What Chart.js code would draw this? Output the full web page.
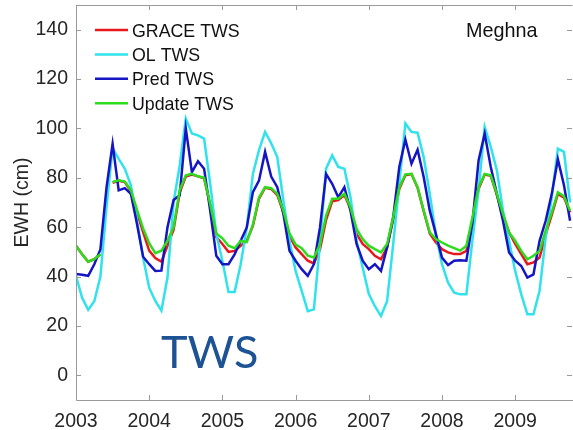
<!DOCTYPE html>
<html>
<head>
<meta charset="utf-8">
<script src="https://cdn.jsdelivr.net/npm/chart.js@4.4.1/dist/chart.umd.min.js"></script>
<style>
    html, body { margin: 0; padding: 0; background: #fff; }
    #wrap { width: 573px; height: 430px; position: relative; }
</style>
</head>
<body>
<div id="wrap"><canvas id="graficoTWS"></canvas></div>
<script>
// ---------------------------------------------------------------
// Dados mensais (jan/2003 - out/2009), EWH em cm - bacia Meghna
// ---------------------------------------------------------------
const anoInicial = 2003;
const anos = [2003, 2004, 2005, 2006, 2007, 2008, 2009];
const yTicks = [0, 20, 40, 60, 80, 100, 120, 140];

const graceTWS = [
    52.5, 49, 46, 47, 49, null, 78, 78.8, 78.3, 74.5, 66, 58,
    50.5, 47.5, 46, 52.5, 59, 74, 80.5, 81.3, 80.6, 79.8, 69, 56,
    53.2, 50, 50.4, 52.5, 54.5, 60.5, 71.5, 76, 75.5, 73, 66, 56.5,
    51.8, 49.1, 46.4, 45.3, 51, 63, 70.5, 71, 73, 67.5, 57.2, 53.2,
    51.1, 48.4, 47, 51.8, 63, 75.5, 81, 81.5, 76, 66.5, 57.5, 53.8,
    51.1, 49.8, 49.1, 49.1, 50.4, 63, 75.5, 81.3, 80.8, 73, 65, 57.9,
    53.2, 49.1, 45, 45.7, 47.7, 57, 65, 73.5, 72, 66
];
const olTWS = [
    40.3, 31.4, 26.5, 30, 40, 68, 92, 87.7, 83.7, 77, 62.6, 47.7,
    35.5, 30.1, 26.2, 39.6, 70, 85, 104, 98, 97.2, 95.9, 77.6, 57.2,
    46.4, 33.7, 33.7, 45, 59.9, 81.6, 91.2, 98.6, 94, 88.4, 70.8, 54.5,
    42.3, 34.2, 26, 26.7, 53.2, 83.7, 89.1, 84.4, 83.7, 72.1, 54.5, 43.6,
    33, 28, 24, 30, 53, 77.6, 102, 98.6, 98.3, 88.4, 73.5, 57.2,
    45, 37.5, 33.5, 32.8, 32.8, 55, 75, 100.6, 92.5, 83, 66.7, 54.5,
    42.3, 32.8, 24.7, 24.7, 34.2, 55.9, 72.1, 91.8, 90.5, 70
];
const predTWS = [
    41, 40.7, 40.3, 45, 51, 76, 93.8, 74.9, 75.8, 73.5, 61.3, 48,
    45, 42.3, 42.4, 60, 71, 72.9, 100, 82.3, 86.7, 83.7, 66.7, 48.4,
    45, 45, 49, 54.5, 59.9, 74.2, 78.9, 90.5, 80.5, 76.2, 65.4, 50.4,
    46.4, 43, 40.3, 45, 59.9, 81.6, 77.6, 72.1, 76.2, 66.7, 53.2, 46.4,
    43, 45, 42.3, 51.8, 64, 84.4, 95.5, 85.7, 91.4, 80.3, 66.7, 57.2,
    47.7, 44.7, 46.4, 46.6, 46.4, 62, 87, 97.9, 84.4, 73.5, 62.6, 49.8,
    46.4, 44.3, 39.6, 40.9, 54.5, 62.6, 73.5, 87.5, 77, 62.6
];
const updateTWS = [
    52.5, 49, 46, 47, 49, null, 78.3, 79, 78.5, 75, 67, 59.5,
    53.5, 49.5, 50.5, 54.5, 60, 75, 81, 81.6, 80.6, 80, 69.4, 57.5,
    55.5, 52.5, 51.5, 54.5, 54, 61, 72, 76.2, 75.8, 73.5, 66.7, 57.5,
    53, 51.5, 48.5, 47.7, 53, 64.7, 71.5, 71.5, 73.5, 68, 59.3, 55.2,
    52.5, 51.1, 49.8, 53.2, 64, 76.2, 81.4, 81.6, 76.2, 66.7, 57.9, 55.2,
    53.8, 52.5, 51.5, 50.5, 52.5, 64, 76.2, 81.6, 81, 73.5, 65.4, 57.9,
    54.5, 50.4, 47, 48.4, 50.4, 58.6, 66, 74.2, 72.5, 66.7
];

// serie mensal -> pontos {x: ano decimal, y}
function serieMensal(valores) {
    return valores.map((v, i) => ({ x: anoInicial + i / 12, y: v }));
}

const corEixo = '#9a9a9a';
const corTexto = '#262626';
const fonteBase = "'Liberation Sans', Arial, sans-serif";

/**
 * Moldura, ticks internos, legenda e rótulos (estilo MATLAB)
 */
const molduraPlugin = {
    id: 'moldura',
    afterDatasetsDraw(chart) {
        const { ctx, chartArea: a, scales } = chart;
        const xs = scales.x, ys = scales.y;
        const tl = 5;
        ctx.save();
        ctx.strokeStyle = corEixo;
        ctx.lineWidth = 1;
        ctx.beginPath();
        ctx.moveTo(a.left + 0.5, a.top + 0.5);
        ctx.lineTo(a.right - 0.5, a.top + 0.5);
        ctx.moveTo(a.left + 0.5, a.top);
        ctx.lineTo(a.left + 0.5, a.bottom + 0.5);
        ctx.lineTo(a.right, a.bottom + 0.5);
        anos.forEach(v => {
            const px = Math.round(xs.getPixelForValue(v)) + 0.5;
            ctx.moveTo(px, a.bottom);
            ctx.lineTo(px, a.bottom - tl);
            ctx.moveTo(px, a.top);
            ctx.lineTo(px, a.top + tl);
        });
        yTicks.forEach(v => {
            const py = Math.round(ys.getPixelForValue(v)) + 0.5;
            ctx.moveTo(a.left, py);
            ctx.lineTo(a.left + tl, py);
            ctx.moveTo(a.right - 1, py);
            ctx.lineTo(a.right - 1 - tl, py);
        });
        ctx.stroke();

        // legenda dentro da área do gráfico
        ctx.font = '17.8px ' + fonteBase;
        ctx.textBaseline = 'alphabetic';
        ctx.textAlign = 'left';
        chart.data.datasets.forEach((ds, i) => {
            const y = 30 + i * 24.4;
            ctx.strokeStyle = ds.borderColor;
            ctx.lineWidth = 2.5;
            ctx.beginPath();
            ctx.moveTo(95, y);
            ctx.lineTo(128, y);
            ctx.stroke();
            ctx.fillStyle = '#111';
            ctx.fillText(ds.label, 132, y + 6.5);
        });

        ctx.font = '19.8px ' + fonteBase;
        ctx.fillStyle = '#111';
        ctx.fillText('Meghna', 466, 37.3);

        ctx.font = '45px Lato, sans-serif';
        ctx.fillStyle = '#1d5295';
        ctx.fillText('TWS', 161, 368);
        ctx.restore();
    }
};

const seriesCfg = [
    { label: 'GRACE TWS', data: graceTWS, cor: '#e8191c', ordem: 4 },
    { label: 'OL TWS', data: olTWS, cor: '#30e2ec', ordem: 3 },
    { label: 'Pred TWS', data: predTWS, cor: '#1515c4', ordem: 2 },
    { label: 'Update TWS', data: updateTWS, cor: '#2edc1e', ordem: 1 }
];

const ctx = document.getElementById('graficoTWS').getContext('2d');
const graficoTWS = new Chart(ctx, {
    type: 'line',
    data: {
        datasets: seriesCfg.map(s => ({
            label: s.label,
            data: serieMensal(s.data),
            borderColor: s.cor,
            backgroundColor: s.cor,
            borderWidth: 2.5,
            pointRadius: 0,
            tension: 0,
            spanGaps: false,
            order: s.ordem
        }))
    },
    options: {
        responsive: true,
        maintainAspectRatio: false,
        animation: false,
        devicePixelRatio: 1,
        layout: { padding: { top: 5, right: 0, bottom: 0, left: 0 } },
        plugins: {
            legend: { display: false },
            tooltip: { enabled: false }
        },
        scales: {
            x: {
                type: 'linear',
                min: 2003,
                max: 2009.79,
                grid: { display: false, drawTicks: false },
                border: { display: false },
                ticks: {
                    color: corTexto,
                    font: { family: fonteBase, size: 19.5 },
                    padding: 10,
                    maxRotation: 0,
                    callback: v => String(v)
                },
                afterBuildTicks: s => { s.ticks = anos.map(v => ({ value: v })); },
                afterFit: s => {
                    s.height = 30;
                    s.paddingLeft = 0;
                    s.paddingRight = 0;
                }
            },
            y: {
                type: 'linear',
                min: -10,
                max: 150,
                grid: { display: false, drawTicks: false },
                border: { display: false },
                ticks: {
                    color: corTexto,
                    font: { family: fonteBase, size: 19.5 },
                    padding: 8
                },
                title: {
                    display: true,
                    text: 'EWH (cm)',
                    color: corTexto,
                    font: { family: fonteBase, size: 19.5 },
                    padding: { top: 11, bottom: 0 }
                },
                afterBuildTicks: s => { s.ticks = yTicks.map(v => ({ value: v })); },
                afterFit: s => {
                    s.width = 76;
                    s.paddingTop = 0;
                    s.paddingBottom = 0;
                }
            }
        }
    },
    plugins: [molduraPlugin]
});
</script>
</body>
</html>
